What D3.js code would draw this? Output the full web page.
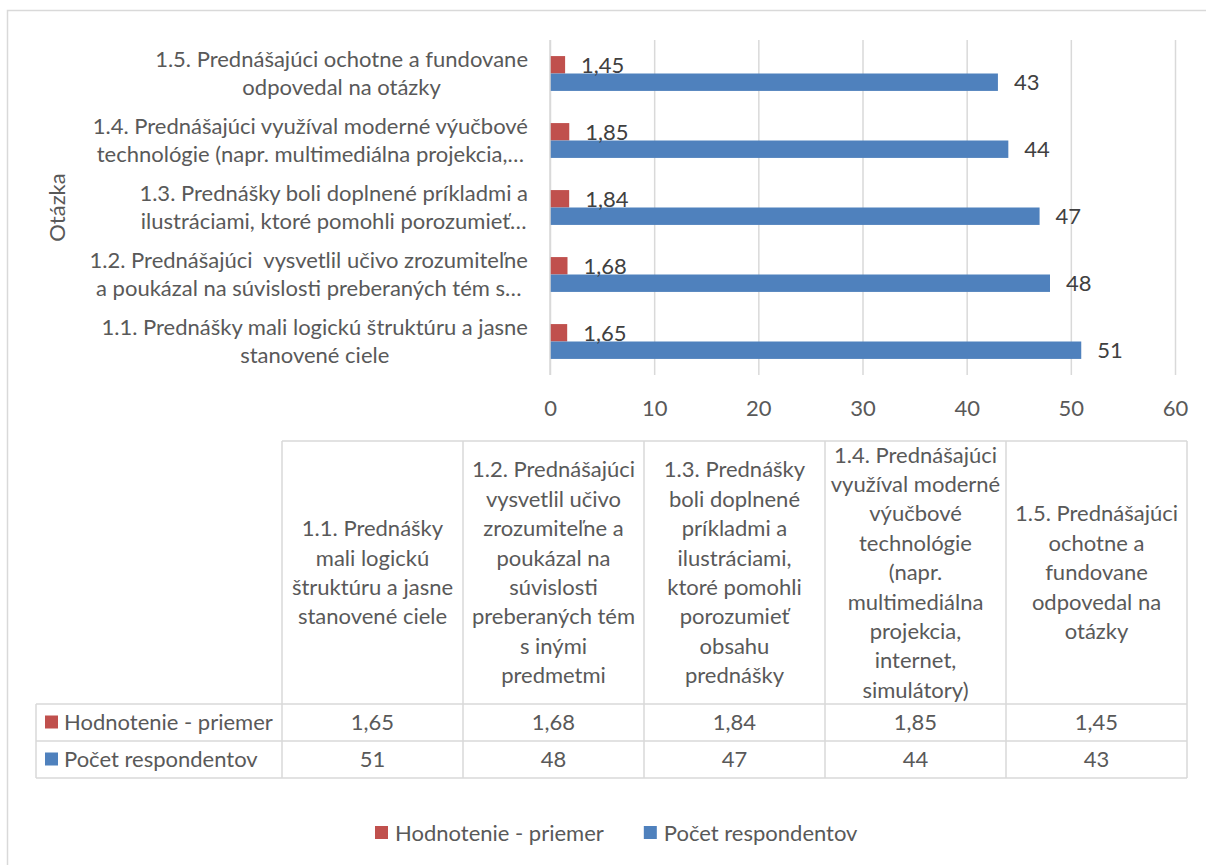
<!DOCTYPE html>
<html>
<head>
<meta charset="utf-8">
<script src="https://cdn.jsdelivr.net/npm/d3@7"></script>
<style>
  body { margin: 0; background: #fff; }
  svg text { font-family: Lato, "Open Sans", sans-serif; white-space: pre; }
</style>
</head>
<body>
<div id="chart"></div>
<script>
// data
const questions = ["1.1.", "1.2.", "1.3.", "1.4.", "1.5."];
const axisLabels = [
  ["1.1. Prednášky mali logickú štruktúru a jasne", "stanovené ciele"],
  ["1.2. Prednášajúci  vysvetlil učivo zrozumiteľne", "a poukázal na súvislosti preberaných tém s…"],
  ["1.3. Prednášky boli doplnené príkladmi a", "ilustráciami, ktoré pomohli porozumieť…"],
  ["1.4. Prednášajúci využíval moderné výučbové", "technológie (napr. multimediálna projekcia,…"],
  ["1.5. Prednášajúci ochotne a fundovane", "odpovedal na otázky"]
];
const tableHeaders = [
  ["1.1. Prednášky", "mali logickú", "štruktúru a jasne", "stanovené ciele"],
  ["1.2. Prednášajúci", "vysvetlil učivo", "zrozumiteľne a", "poukázal na", "súvislosti", "preberaných tém", "s inými", "predmetmi"],
  ["1.3. Prednášky", "boli doplnené", "príkladmi a", "ilustráciami,", "ktoré pomohli", "porozumieť", "obsahu", "prednášky"],
  ["1.4. Prednášajúci", "využíval moderné", "výučbové", "technológie", "(napr.", "multimediálna", "projekcia,", "internet,", "simulátory)"],
  ["1.5. Prednášajúci", "ochotne a", "fundovane", "odpovedal na", "otázky"]
];
const seriesNames = ["Hodnotenie - priemer", "Počet respondentov"];
const hodnotenie = [1.65, 1.68, 1.84, 1.85, 1.45];
const pocet = [51, 48, 47, 44, 43];
const xTicks = [0, 10, 20, 30, 40, 50, 60];
const axisTitle = "Otázka";

const colors = { "Hodnotenie - priemer": "#C0504D", "Počet respondentov": "#4F81BD" };
const fontSize = 22;
const textColor = "#595959";
const lineColor = "#d9d9d9";

const width = 1206, height = 865;
const plot = { left: 550, right: 1175, top: 40, bottom: 375 };

const seriesValues = [hodnotenie, pocet];
const locale = d3.formatLocale({ decimal: ",", thousands: " ", grouping: [3], currency: ["", " €"] });
const fmt = (name, v) => name === seriesNames[0] ? locale.format(".2f")(v) : locale.format("d")(v);

const svg = d3.select("#chart").append("svg")
  .attr("width", width)
  .attr("height", height);

// chart border
svg.append("rect")
  .attr("x", 7.5).attr("y", 10.5)
  .attr("width", width).attr("height", height)
  .attr("fill", "none").attr("stroke", lineColor).attr("stroke-width", 1.5);

const x = d3.scaleLinear().domain([0, 60]).range([plot.left, plot.right]);
const y = d3.scaleBand()
  .domain(questions.slice().reverse())
  .range([plot.top, plot.bottom])
  .paddingInner(0.48)
  .paddingOuter(0.24);
const ySeries = d3.scaleBand().domain(seriesNames).range([0, y.bandwidth()]);

// gridlines
const grid = svg.append("g")
  .attr("transform", "translate(0," + plot.bottom + ")")
  .call(d3.axisBottom(x).tickValues(xTicks).tickSize(-(plot.bottom - plot.top)).tickFormat(""));
grid.select(".domain").remove();
grid.selectAll("line").attr("stroke", lineColor).attr("stroke-width", 1.5);

// x tick labels
const xAxis = svg.append("g")
  .attr("transform", "translate(0," + plot.bottom + ")")
  .call(d3.axisBottom(x).tickValues(xTicks).tickSize(0).tickPadding(25));
xAxis.select(".domain").remove();
xAxis.selectAll("text")
  .attr("fill", textColor)
  .style("font-size", fontSize + "px");

// bars
const rows = questions.map((q, i) => ({ q, values: seriesNames.map((s, j) => ({ s, v: seriesValues[j][i] })) }));
const groups = svg.append("g").selectAll("g")
  .data(rows)
  .enter().append("g")
  .attr("transform", d => "translate(0," + y(d.q) + ")");

groups.selectAll("rect")
  .data(d => d.values)
  .enter().append("rect")
  .attr("x", x(0))
  .attr("y", d => ySeries(d.s))
  .attr("width", d => x(d.v) - x(0))
  .attr("height", ySeries.bandwidth())
  .attr("fill", d => colors[d.s]);

groups.selectAll("text")
  .data(d => d.values)
  .enter().append("text")
  .attr("x", d => x(d.v) + 16)
  .attr("y", d => ySeries(d.s) + ySeries.bandwidth() / 2)
  .attr("dy", "0.35em")
  .attr("fill", "#404040")
  .style("font-size", fontSize + "px")
  .text(d => fmt(d.s, d.v));

// category axis line
svg.append("line")
  .attr("x1", x(0)).attr("x2", x(0))
  .attr("y1", plot.top).attr("y2", plot.bottom)
  .attr("stroke", lineColor).attr("stroke-width", 1.5);

// category labels
const yAxis = svg.append("g")
  .attr("transform", "translate(" + plot.left + ",0)")
  .call(d3.axisLeft(y).tickSize(0).tickFormat(""));
yAxis.select(".domain").remove();
const lineH = 28;
yAxis.selectAll(".tick").each(function (q) {
  const lines = axisLabels[questions.indexOf(q)];
  const t = d3.select(this).append("text")
    .attr("fill", textColor)
    .attr("text-anchor", "middle")
    .style("font-size", fontSize + "px");
  lines.forEach((l, k) => {
    t.append("tspan").attr("x", 0)
      .attr("y", (k - (lines.length - 1) / 2) * lineH)
      .attr("dy", "0.35em")
      .text(l);
  });
  const w = t.select("tspan").node().getComputedTextLength();
  t.selectAll("tspan").attr("x", -22 - w / 2);
});

// axis title
svg.append("text")
  .attr("transform", "translate(57," + (plot.top + plot.bottom) / 2 + ") rotate(-90)")
  .attr("text-anchor", "middle")
  .attr("dy", "0.35em")
  .attr("fill", textColor)
  .style("font-size", fontSize + "px")
  .text(axisTitle);

// data table
const table = { left: 36, colStart: 282, right: 1187, top: 441, headBottom: 704, rowH: 37 };
const col = d3.scaleBand().domain(questions).range([table.colStart, table.right]);
const tbl = svg.append("g");
const tableBottom = table.headBottom + table.rowH * seriesNames.length;

// horizontal lines
tbl.append("line")
  .attr("x1", table.colStart).attr("x2", table.right)
  .attr("y1", table.top).attr("y2", table.top);
[0, 1, 2].forEach(r => {
  tbl.append("line")
    .attr("x1", table.left).attr("x2", table.right)
    .attr("y1", table.headBottom + r * table.rowH).attr("y2", table.headBottom + r * table.rowH);
});
// vertical lines
tbl.append("line")
  .attr("x1", table.left).attr("x2", table.left)
  .attr("y1", table.headBottom).attr("y2", tableBottom);
questions.forEach(q => {
  tbl.append("line")
    .attr("x1", col(q)).attr("x2", col(q))
    .attr("y1", table.top).attr("y2", tableBottom);
});
tbl.append("line")
  .attr("x1", table.right).attr("x2", table.right)
  .attr("y1", table.top).attr("y2", tableBottom);
tbl.selectAll("line").attr("stroke", lineColor).attr("stroke-width", 1.5);

// header texts
const headLineH = 29.4;
const headMid = (table.top + table.headBottom) / 2;
tableHeaders.forEach((lines, i) => {
  const t = tbl.append("text")
    .attr("text-anchor", "middle")
    .attr("fill", textColor)
    .style("font-size", fontSize + "px");
  lines.forEach((l, k) => {
    t.append("tspan")
      .attr("x", col(questions[i]) + col.bandwidth() / 2)
      .attr("y", headMid + (k - (lines.length - 1) / 2) * headLineH)
      .attr("dy", "0.35em")
      .text(l);
  });
});

// rows
seriesNames.forEach((s, r) => {
  const cy = table.headBottom + table.rowH * r + table.rowH / 2;
  tbl.append("rect")
    .attr("x", table.left + 9).attr("y", cy - 7)
    .attr("width", 13).attr("height", 13)
    .attr("fill", colors[s]);
  tbl.append("text")
    .attr("x", table.left + 28).attr("y", cy)
    .attr("dy", "0.35em")
    .attr("fill", textColor)
    .style("font-size", fontSize + "px")
    .text(s);
  seriesValues[r].forEach((v, i) => {
    tbl.append("text")
      .attr("x", col(questions[i]) + col.bandwidth() / 2).attr("y", cy)
      .attr("dy", "0.35em")
      .attr("text-anchor", "middle")
      .attr("fill", textColor)
      .style("font-size", fontSize + "px")
      .text(fmt(s, v));
  });
});

// legend
const legend = svg.append("g").attr("transform", "translate(375,833)");
let lx = 0;
seriesNames.forEach(s => {
  legend.append("rect")
    .attr("x", lx).attr("y", -7)
    .attr("width", 13).attr("height", 13)
    .attr("fill", colors[s]);
  const t = legend.append("text")
    .attr("x", lx + 20).attr("y", 0)
    .attr("dy", "0.35em")
    .attr("fill", textColor)
    .style("font-size", fontSize + "px")
    .text(s);
  lx += 20 + t.node().getComputedTextLength() + 40;
});
</script>
</body>
</html>
